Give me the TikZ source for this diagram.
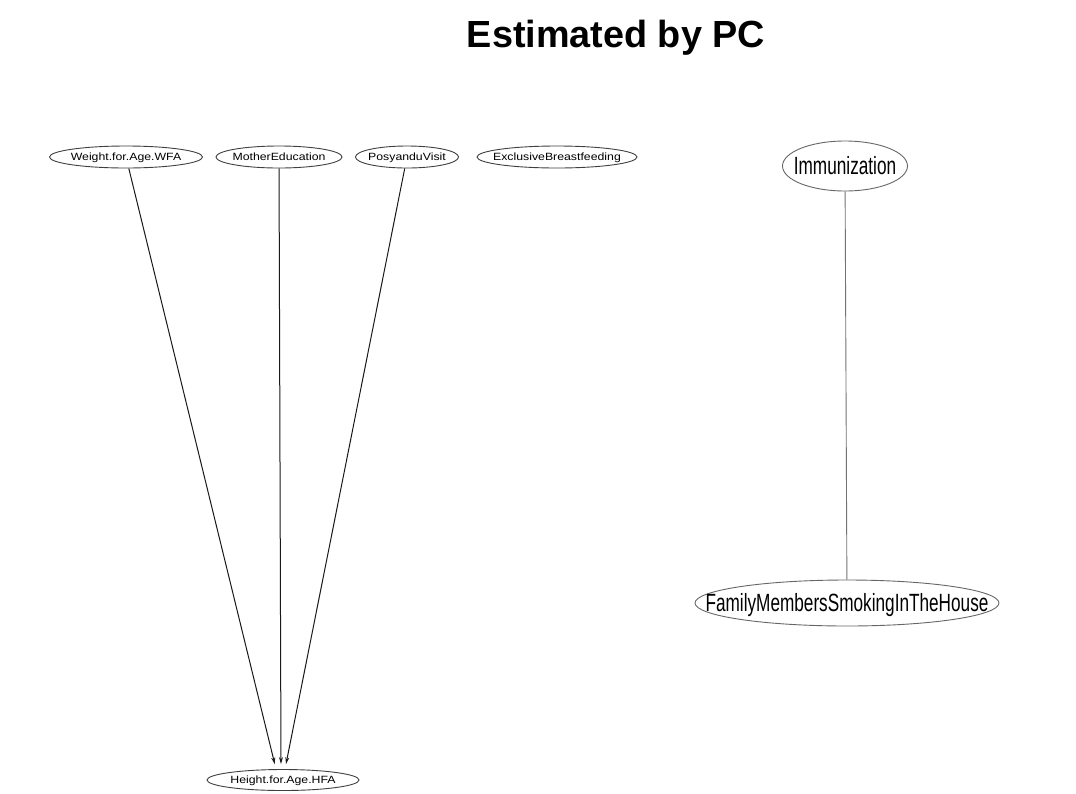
\documentclass[tikz,border=0pt]{standalone}
\usepackage{fontspec}
\setmainfont{Liberation Sans}
\usetikzlibrary{shapes.geometric,arrows.meta,calc}
\tikzset{
  smallnode/.style={ellipse,draw=black!75,line width=0.9pt,inner sep=0pt,text height=9pt,text depth=1.5pt},
  bignode/.style={ellipse,draw=black!60,line width=0.9pt,inner sep=0pt,text height=20pt,text depth=4pt},
  diredge/.style={draw=black!90,line width=1pt,-{Stealth[length=7pt,width=4pt]},shorten >=5pt},
  undiredge/.style={draw=black!55,line width=0.9pt},
}
\newcommand{\smalltxt}[1]{\makebox[0pt]{\scalebox{1.17}[1]{\fontsize{10.5}{11}\selectfont #1}}}
\newcommand{\bigtxt}[1]{\makebox[0pt]{\scalebox{1}[1.45]{\fontsize{17.2}{18}\selectfont #1}}}
\begin{document}
\begin{tikzpicture}[x=1pt,y=-1pt]
\useasboundingbox[fill=white] (0,0) rectangle (1076,793);
\node[font=\fontsize{37.8}{40}\selectfont\bfseries] (title) at (616,38) {Estimated by PC};
\node[smallnode,minimum width=153pt,minimum height=22pt] (wfa) at (126,157) {\smalltxt{Weight.for.Age.WFA}};
\node[smallnode,minimum width=126pt,minimum height=22pt] (me) at (279,157) {\smalltxt{MotherEducation}};
\node[smallnode,minimum width=103pt,minimum height=22pt] (pv) at (407,157) {\smalltxt{PosyanduVisit}};
\node[smallnode,minimum width=160pt,minimum height=22pt] (eb) at (557,157) {\smalltxt{ExclusiveBreastfeeding}};
\node[smallnode,minimum width=152pt,minimum height=21pt] (hfa) at (283,780) {\smalltxt{Height.for.Age.HFA}};
\node[bignode,minimum width=125pt,minimum height=50pt] (imm) at (845,166) {\bigtxt{Immunization}};
\node[bignode,minimum width=304pt,minimum height=46pt] (fam) at (847,603) {\bigtxt{FamilyMembersSmokingInTheHouse}};
\draw[diredge] (wfa) -- ($(hfa.north)+(-7,0)$);
\draw[diredge] (me) -- ($(hfa.north)+(-2,0)$);
\draw[diredge] (pv) -- ($(hfa.north)+(2,0)$);
\draw[undiredge] (imm) -- (fam);
\end{tikzpicture}
\end{document}
